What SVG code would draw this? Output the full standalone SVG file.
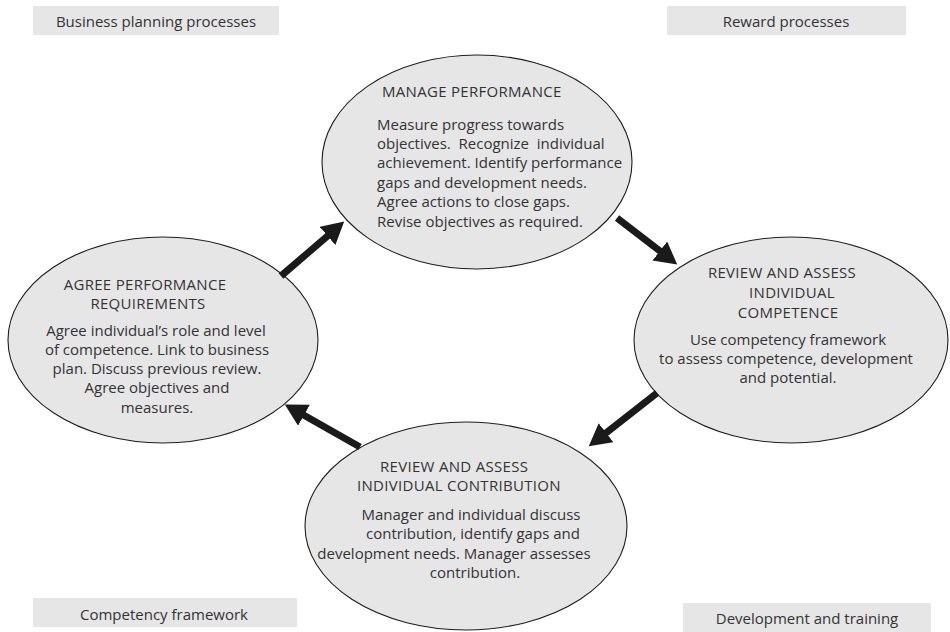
<svg xmlns="http://www.w3.org/2000/svg" width="950" height="632" viewBox="0 0 950 632">
<style>
.bg{fill:#ffffff}
.lbl{fill:#e6e6e7}
.ell{fill:#e6e6e7;stroke:#1e1e1e;stroke-width:1.1}
text{font-family:"Open Sans","Liberation Sans",sans-serif;fill:#333333;font-size:15px}
.h{letter-spacing:0.3px}
.c{text-anchor:middle}
.pre{white-space:pre}
.arr{stroke:#1a1a1a;stroke-width:7;fill:none}
</style>
<defs>
<marker id="ah" viewBox="0 0 22 24" refX="1" refY="12" markerWidth="22" markerHeight="24" markerUnits="userSpaceOnUse" orient="auto">
<path d="M0,0 L22,12 L0,24 z" fill="#1a1a1a"/>
</marker>
</defs>
<rect class="bg" x="0" y="0" width="950" height="632"/>

<g id="label-business">
<rect class="lbl" x="33" y="6" width="246" height="29"/>
<text class="c" x="156" y="27">Business planning processes</text>
</g>
<g id="label-reward">
<rect class="lbl" x="667" y="6" width="239" height="29"/>
<text class="c" x="786" y="27">Reward processes</text>
</g>
<g id="label-competency">
<rect class="lbl" x="33" y="598" width="264" height="29"/>
<text class="c" x="164" y="620">Competency framework</text>
</g>
<g id="label-development">
<rect class="lbl" x="683" y="603" width="248" height="29"/>
<text class="c" x="807" y="624">Development and training</text>
</g>

<g id="node-manage">
<ellipse class="ell" cx="477" cy="162" rx="155" ry="107"/>
<text class="h" x="382" y="97">MANAGE PERFORMANCE</text>
<text x="377" y="130">Measure progress towards</text>
<text class="pre" x="377" y="149">objectives.  Recognize  individual</text>
<text x="377" y="168">achievement. Identify performance</text>
<text x="377" y="188">gaps and development needs.</text>
<text x="377" y="207">Agree actions to close gaps.</text>
<text x="377" y="227">Revise objectives as required.</text>
</g>

<g id="node-competence">
<ellipse class="ell" cx="791" cy="340" rx="157" ry="103"/>
<text class="c h" x="782" y="278">REVIEW AND ASSESS</text>
<text class="c h" x="792" y="298">INDIVIDUAL</text>
<text class="c h" x="788" y="318">COMPETENCE</text>
<text class="c" x="788" y="345">Use competency framework</text>
<text class="c" x="786" y="364">to assess competence, development</text>
<text class="c" x="788" y="383">and potential.</text>
</g>

<g id="node-agree">
<ellipse class="ell" cx="163" cy="340" rx="155" ry="103"/>
<text class="c h" x="145" y="290">AGREE PERFORMANCE</text>
<text class="c h" x="148" y="309">REQUIREMENTS</text>
<text class="c" x="156" y="336">Agree individual’s role and level</text>
<text class="c" x="157" y="355">of competence. Link to business</text>
<text class="c" x="157" y="374">plan. Discuss previous review.</text>
<text class="c" x="157" y="393">Agree objectives and</text>
<text class="c" x="157" y="413">measures.</text>
</g>

<g id="node-contribution">
<ellipse class="ell" cx="466" cy="526" rx="161" ry="104"/>
<text class="h" x="380" y="472">REVIEW AND ASSESS</text>
<text class="h" x="357" y="491">INDIVIDUAL CONTRIBUTION</text>
<text class="c" x="471" y="520">Manager and individual discuss</text>
<text class="c" x="473" y="539">contribution, identify gaps and</text>
<text class="c" x="454" y="559">development needs. Manager assesses</text>
<text class="c" x="475" y="578">contribution.</text>
</g>

<g id="connectors">
<line class="arr" x1="281" y1="276" x2="328.3" y2="235.3" marker-end="url(#ah)"/>
<line class="arr" x1="617" y1="218" x2="660.6" y2="251.6" marker-end="url(#ah)"/>
<line class="arr" x1="657" y1="393" x2="605.3" y2="433.4" marker-end="url(#ah)"/>
<line class="arr" x1="360" y1="447" x2="303.1" y2="414.8" marker-end="url(#ah)"/>
</g>
</svg>
